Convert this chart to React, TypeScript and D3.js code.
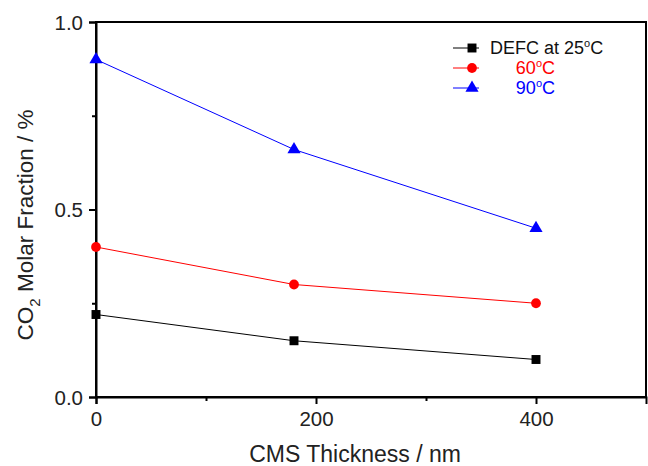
import React, { useRef, useEffect } from "react";
import * as d3 from "d3";

const thickness = [0, 180, 400];
const defc25 = [0.22, 0.15, 0.1];
const defc60 = [0.4, 0.3, 0.25];
const defc90 = [0.9, 0.66, 0.45];
const xTicks = [0, 200, 400];
const yTicks = [0.0, 0.5, 1.0];

const W = 648;
const H = 466;

const App = () => {
  const svgRef = useRef<SVGSVGElement>(null);

  useEffect(() => {
    const svg = d3.select(svgRef.current);
    svg.selectAll("*").remove();

    const margin = { top: 22, right: 2, bottom: 69, left: 96 };
    const iw = W - margin.left - margin.right;
    const ih = H - margin.top - margin.bottom;
    const font = "Liberation Sans, Arial, sans-serif";

    const x = d3.scaleLinear().domain([0, 500]).range([0, iw]);
    const y = d3.scaleLinear().domain([0, 1]).range([ih, 0]);

    const g = svg
      .append("g")
      .attr("transform", `translate(${margin.left},${margin.top})`);

    // frame
    g.append("rect")
      .attr("width", iw)
      .attr("height", ih)
      .attr("fill", "none")
      .attr("stroke", "#000")
      .attr("stroke-width", 2);

    // x axis
    const xAxis = g
      .append("g")
      .attr("transform", `translate(0,${ih})`)
      .call(
        d3.axisBottom(x).tickValues(xTicks).tickSize(7).tickFormat(d3.format("d"))
      );
    g.append("g")
      .attr("transform", `translate(0,${ih})`)
      .call(d3.axisBottom(x).tickValues([100, 300]).tickSize(4).tickFormat(() => ""))
      .select(".domain")
      .remove();

    // y axis
    const yAxis = g
      .append("g")
      .call(d3.axisLeft(y).tickValues(yTicks).tickSize(7).tickFormat(d3.format(".1f")));
    g.append("g")
      .call(d3.axisLeft(y).tickValues([0.25, 0.75]).tickSize(4).tickFormat(() => ""))
      .select(".domain")
      .remove();

    [xAxis, yAxis].forEach((a) => {
      a.select(".domain").attr("stroke-width", 2);
      a.selectAll("text")
        .attr("font-family", font)
        .attr("font-size", 20.5)
        .attr("fill", "#222");
    });
    xAxis.selectAll("text").attr("y", 10).attr("dy", "0.95em");
    yAxis.selectAll("text").attr("x", -13).attr("dy", "0.36em");
    g.selectAll(".tick line").attr("stroke-width", 2);

    const series = [
      { values: defc25, color: "#000", shape: d3.symbolSquare, size: 80 },
      { values: defc60, color: "#ff0000", shape: d3.symbolCircle, size: 75 },
      { values: defc90, color: "#0000ff", shape: d3.symbolTriangle, size: 75 },
    ];

    const line = d3
      .line<number>()
      .x((_, i) => x(thickness[i]))
      .y((d) => y(d));

    series.forEach((s) => {
      g.append("path")
        .attr("d", line(s.values))
        .attr("fill", "none")
        .attr("stroke", s.color)
        .attr("stroke-width", 1);
      g.selectAll(null)
        .data(s.values)
        .enter()
        .append("path")
        .attr("d", d3.symbol().type(s.shape).size(s.size)())
        .attr("transform", (d, i) => `translate(${x(thickness[i])},${y(d)})`)
        .attr("fill", s.color);
    });

    // legend
    const legend = [
      { label: "DEFC at 25", color: "#000", shape: d3.symbolSquare, size: 80, anchor: "start" },
      { label: "60", color: "#ff0000", shape: d3.symbolCircle, size: 75, anchor: "end" },
      { label: "90", color: "#0000ff", shape: d3.symbolTriangle, size: 75, anchor: "end" },
    ];
    legend.forEach((l, i) => {
      const ly = 48 + i * 20;
      svg.append("line")
        .attr("x1", 453).attr("x2", 479)
        .attr("y1", ly).attr("y2", ly)
        .attr("stroke", l.color).attr("stroke-width", 1);
      svg.append("path")
        .attr("d", d3.symbol().type(l.shape).size(l.size)())
        .attr("transform", `translate(${472},${ly})`)
        .attr("fill", l.color);
      const t = svg.append("text")
        .attr("x", l.anchor === "start" ? 490 : 555)
        .attr("y", ly + 6)
        .attr("text-anchor", l.anchor)
        .attr("font-family", font)
        .attr("font-size", 18)
        .attr("fill", l.color === "#000" ? "#111" : l.color);
      t.append("tspan").text(l.label);
      t.append("tspan").attr("dy", -7).attr("font-size", 11).text("o");
      t.append("tspan").attr("dy", 7).text("C");
    });

    // axis titles
    svg.append("text")
      .attr("x", 355)
      .attr("y", 462)
      .attr("text-anchor", "middle")
      .attr("font-family", font)
      .attr("font-size", 23)
      .attr("fill", "#222")
      .text("CMS Thickness / nm");

    const yt = svg.append("text")
      .attr("transform", `translate(33,${225}) rotate(-90)`)
      .attr("text-anchor", "middle")
      .attr("font-family", font)
      .attr("font-size", 22.5)
      .attr("fill", "#222");
    yt.append("tspan").text("CO");
    yt.append("tspan").attr("dy", 7).attr("font-size", 15).text("2");
    yt.append("tspan").attr("dy", -7).text(" Molar Fraction / %");
  }, []);

  return (
    <svg
      ref={svgRef}
      width={W}
      height={H}
      style={{ position: "absolute", left: 0, top: 0, background: "#fff" }}
    />
  );
};

export default App;
